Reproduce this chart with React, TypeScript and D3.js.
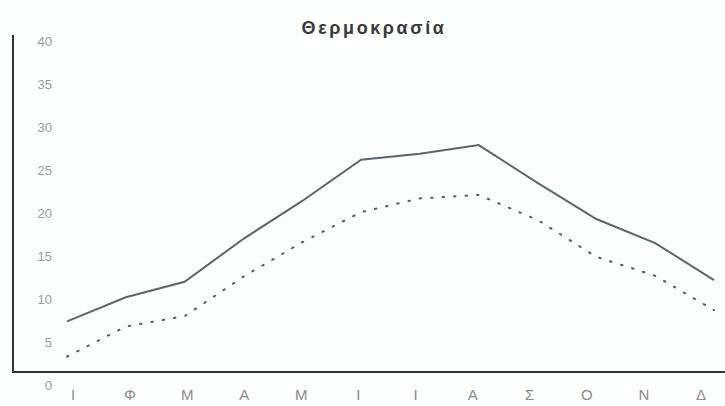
import React from "react";
import * as d3 from "d3";

const months = ["Ι", "Φ", "Μ", "Α", "Μ", "Ι", "Ι", "Α", "Σ", "Ο", "Ν", "Δ"];
const maxTemp = [7.4, 10.2, 12.0, 17.0, 21.4, 26.2, 26.9, 27.9, 23.5, 19.3, 16.5, 12.2];
const minTemp = [3.3, 6.8, 8.0, 12.6, 16.6, 20.1, 21.7, 22.1, 19.2, 14.9, 12.7, 8.7];
const yTicks = [0, 5, 10, 15, 20, 25, 30, 35, 40];
const title = "Θερμοκρασία";
const axisBase = 1.5;

export default function App() {
  const W = 725;
  const H = 406;
  const x = d3.scalePoint<number>().domain(d3.range(months.length)).range([67, 714]);
  const xLab = d3.scalePoint<number>().domain(d3.range(months.length)).range([73, 701]);
  const y = d3.scaleLinear().domain([0, 40]).range([385, 41]);
  const line = d3
    .line<number>()
    .x((_, i) => x(i) as number)
    .y((d) => y(d));
  const axisY = y(axisBase);
  return (
    <svg
      width={W}
      height={H}
      style={{ position: "absolute", left: 0, top: 0, background: "#fdfefe" }}
    >
      <rect x={0} y={0} width={W} height={H} fill="#fdfefe" />
      <text
        x={374}
        y={34}
        textAnchor="middle"
        fontFamily="Liberation Sans, Arial, sans-serif"
        fontWeight="bold"
        fontSize={18}
        fill="#3a3a3a"
        letterSpacing={2.6}
      >
        {title}
      </text>
      <line x1={13} x2={13} y1={35} y2={axisY} stroke="#333" strokeWidth={2} />
      <line x1={12} x2={W} y1={axisY} y2={axisY} stroke="#333" strokeWidth={2} />
      {yTicks.map((t) => (
        <text
          key={t}
          x={52}
          y={y(t)}
          dy="0.35em"
          textAnchor="end"
          fontFamily="Liberation Sans, Arial, sans-serif"
          fontSize={13}
          fill="#9a9a9a"
        >
          {t}
        </text>
      ))}
      {months.map((m, i) => (
        <text
          key={i}
          x={xLab(i) as number}
          y={400}
          textAnchor="middle"
          fontFamily="Liberation Sans, Arial, sans-serif"
          fontSize={15}
          fill="#8a8a8a"
        >
          {m}
        </text>
      ))}
      <path d={line(maxTemp) ?? ""} fill="none" stroke="#5e636e" strokeWidth={2} />
      <path
        d={line(minTemp) ?? ""}
        fill="none"
        stroke="#555a66"
        strokeWidth={2}
        strokeDasharray="1.5 10"
        strokeLinecap="round"
      />
    </svg>
  );
}
